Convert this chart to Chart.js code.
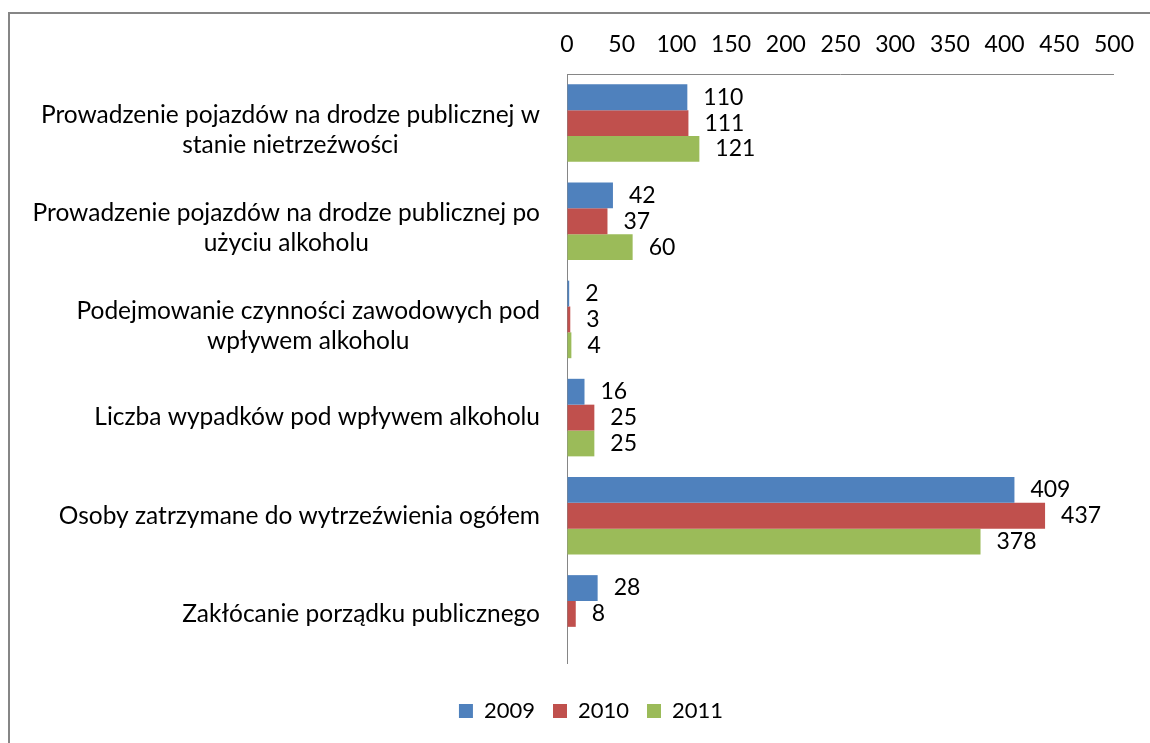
<!DOCTYPE html>
<html>
<head>
<meta charset="utf-8">
<script src="https://cdn.jsdelivr.net/npm/chart.js@4.4.1/dist/chart.umd.min.js"></script>
<style>
  body { margin: 0; background: #fff; }
  #wrap { position: relative; width: 1150px; height: 743px; overflow: hidden; }
  #frame { position: absolute; left: 8px; top: 12px; width: 1200px; height: 800px;
           border-left: 2px solid #868686; border-top: 2px solid #868686; }
  canvas { position: absolute; left: 0; top: 0; }
</style>
</head>
<body>
<div id="wrap">
  <div id="frame"></div>
  <canvas id="chart" width="1150" height="743"></canvas>
</div>
<script>
// categories (each entry is a list of label lines)
const categories = [
  ["Prowadzenie pojazdów na drodze publicznej w", "stanie nietrzeźwości"],
  ["Prowadzenie pojazdów na drodze publicznej po", "użyciu alkoholu"],
  ["Podejmowanie czynności zawodowych pod", "wpływem alkoholu"],
  ["Liczba wypadków pod wpływem alkoholu"],
  ["Osoby zatrzymane do wytrzeźwienia ogółem"],
  ["Zakłócanie porządku publicznego"]
];

// series values
const years = ["2009", "2010", "2011"];
const values2009 = [110, 42, 2, 16, 409, 28];
const values2010 = [111, 37, 3, 25, 437, 8];
const values2011 = [121, 60, 4, 25, 378, null];

// x axis ticks
const xMin = 0;
const xMax = 500;
const xStep = 50;

const FONT = "Lato, 'Open Sans', sans-serif";

// draws the wrapped category labels and the value labels next to the bars
const labelsPlugin = {
  id: 'labelsPlugin',
  afterLayout(chart) {
    // legend in the original sits a bit right of the page centre
    chart.legend.left += 34;
    chart.legend.right += 34;
  },
  afterDatasetsDraw(chart) {
    const ctx = chart.ctx;
    const yScale = chart.scales.y;
    ctx.save();
    ctx.fillStyle = '#000';
    ctx.textBaseline = 'middle';

    // value labels
    ctx.font = '23px ' + FONT;
    ctx.textAlign = 'left';
    chart.data.datasets.forEach((ds, di) => {
      const meta = chart.getDatasetMeta(di);
      meta.data.forEach((bar, i) => {
        const v = ds.data[i];
        if (v === null || v === undefined) return;
        ctx.fillText(String(v), bar.x + 16, bar.y);
      });
    });

    // category labels: block right aligned, lines centered within block
    ctx.font = '24.5px ' + FONT;
    const lineH = 30;
    const rightX = chart.chartArea.left - 27;
    categories.forEach((lines, i) => {
      const cy = yScale.getPixelForValue(i);
      const widths = lines.map(l => ctx.measureText(l).width);
      const blockW = Math.max(...widths);
      const centerX = rightX - blockW / 2;
      const shift = lines.length > 1 ? 7 : 0;
      const startY = cy - (lines.length - 1) * lineH / 2 + shift;
      ctx.textAlign = 'center';
      lines.forEach((l, k) => ctx.fillText(l, centerX, startY + k * lineH));
    });
    ctx.restore();
  }
};

new Chart(document.getElementById('chart'), {
  type: 'bar',
  data: {
    labels: categories.map(c => c.join(' ')),
    datasets: [
      { label: years[0], data: values2009, backgroundColor: '#4F81BD' },
      { label: years[1], data: values2010, backgroundColor: '#C0504D' },
      { label: years[2], data: values2011, backgroundColor: '#9BBB59' }
    ]
  },
  options: {
    indexAxis: 'y',
    responsive: false,
    animation: false,
    layout: { padding: { left: 0, right: 36, top: 0, bottom: 11 } },
    datasets: { bar: { categoryPercentage: 0.79, barPercentage: 1.0 } },
    scales: {
      x: {
        position: 'top',
        min: xMin,
        max: xMax,
        afterFit(scale) { scale.height = 74; },
        ticks: {
          stepSize: xStep,
          padding: 16,
          color: '#000',
          font: { family: FONT, size: 23 }
        },
        grid: { drawOnChartArea: false, drawTicks: false },
        border: { display: true, color: '#868686', width: 1 }
      },
      y: {
        afterFit(scale) { scale.width = 567; },
        ticks: { display: false },
        grid: { drawOnChartArea: false, drawTicks: false },
        border: { display: true, color: '#868686', width: 1 }
      }
    },
    plugins: {
      tooltip: { enabled: false },
      legend: {
        position: 'bottom',
        title: { display: true, text: '', font: { size: 10, lineHeight: 1 }, padding: { top: 9, bottom: 0 } },
        labels: {
          boxWidth: 14,
          boxHeight: 14,
          padding: 18,
          color: '#000',
          font: { family: FONT, size: 22 }
        }
      }
    }
  },
  plugins: [labelsPlugin]
});
</script>
</body>
</html>
